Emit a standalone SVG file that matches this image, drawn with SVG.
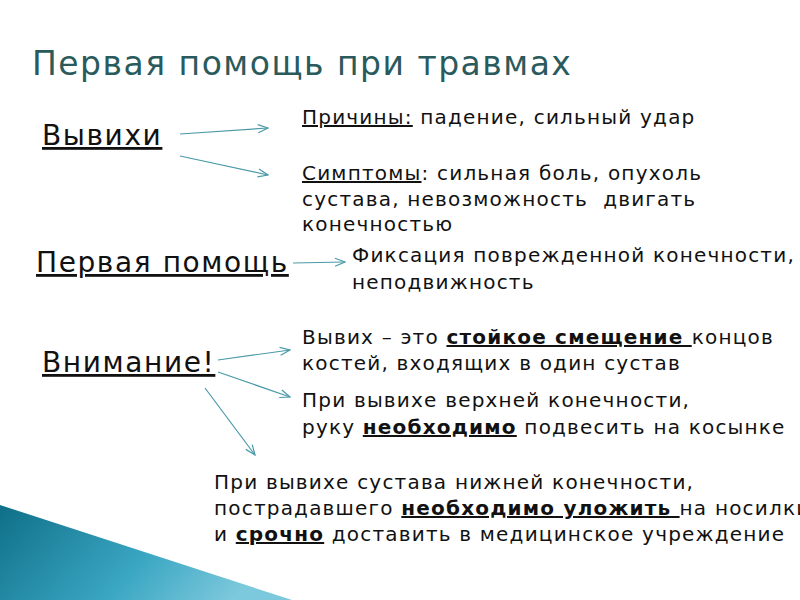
<svg xmlns="http://www.w3.org/2000/svg" width="800" height="600" viewBox="0 0 800 600">
<defs>
<linearGradient id="g" x1="0" y1="0" x2="1" y2="0.3"><stop offset="0" stop-color="#0f6f88"/><stop offset="0.6" stop-color="#3aa6c2"/><stop offset="1" stop-color="#7cc8dc"/></linearGradient>
<marker id="a" markerWidth="12" markerHeight="10" refX="11" refY="5" orient="auto" markerUnits="userSpaceOnUse"><path d="M1,1 L11,5 L1,9" fill="none" stroke="#4a9aa8" stroke-width="1.2"/></marker>
</defs>
<style>
text{font-family:"DejaVu Sans",sans-serif;fill:#111}
.b{font-size:20px;letter-spacing:1.2px}
.h{font-size:28px;letter-spacing:1.6px;text-decoration:underline}
.u{text-decoration:underline}
.s{font-weight:bold;text-decoration:underline}
#c line{stroke:#4a9aa8;stroke-width:1.2;marker-end:url(#a)}
</style>
<rect width="800" height="600" fill="#fff"/>
<polygon points="0,505 292,600 0,600" fill="url(#g)"/>
<text x="32" y="75" font-size="33" letter-spacing="1.5" style="fill:#2a5a5c">Первая помощь при травмах</text>
<g id="c">
<line x1="180" y1="134" x2="268" y2="128"/>
<line x1="180" y1="156" x2="268" y2="175"/>
<line x1="293" y1="263" x2="345" y2="262"/>
<line x1="218" y1="360" x2="290" y2="350"/>
<line x1="218" y1="372" x2="290" y2="397"/>
<line x1="205" y1="388" x2="255" y2="455"/>
</g>
<g id="n1"><text class="h" x="42" y="145">Вывихи</text></g>
<g id="n2"><text class="h" x="36" y="272">Первая помощь</text></g>
<g id="n3"><text class="h" x="42" y="372">Внимание!</text></g>
<g id="n4"><text class="b" x="302" y="124"><tspan class="u">Причины:</tspan> падение, сильный удар</text></g>
<g id="n5" class="b">
<text x="302" y="180"><tspan class="u">Симптомы</tspan>: сильная боль, опухоль</text>
<text x="302" y="206" xml:space="preserve">сустава, невозможность  двигать</text>
<text x="302" y="231">конечностью</text>
</g>
<g id="n6" class="b">
<text x="352" y="262">Фиксация поврежденной конечности,</text>
<text x="352" y="289">неподвижность</text>
</g>
<g id="n7" class="b">
<text x="302" y="344">Вывих – это <tspan class="s">стойкое смещение </tspan>концов</text>
<text x="302" y="370">костей, входящих в один сустав</text>
</g>
<g id="n8" class="b">
<text x="302" y="407">При вывихе верхней конечности,</text>
<text x="302" y="434">руку <tspan class="s">необходимо</tspan> подвесить на косынке</text>
</g>
<g id="n9" class="b">
<text x="214" y="489">При вывихе сустава нижней конечности,</text>
<text x="214" y="515">пострадавшего <tspan class="s">необходимо уложить </tspan>на носилки</text>
<text x="214" y="541">и <tspan class="s">срочно</tspan> доставить в медицинское учреждение</text>
</g>
</svg>
